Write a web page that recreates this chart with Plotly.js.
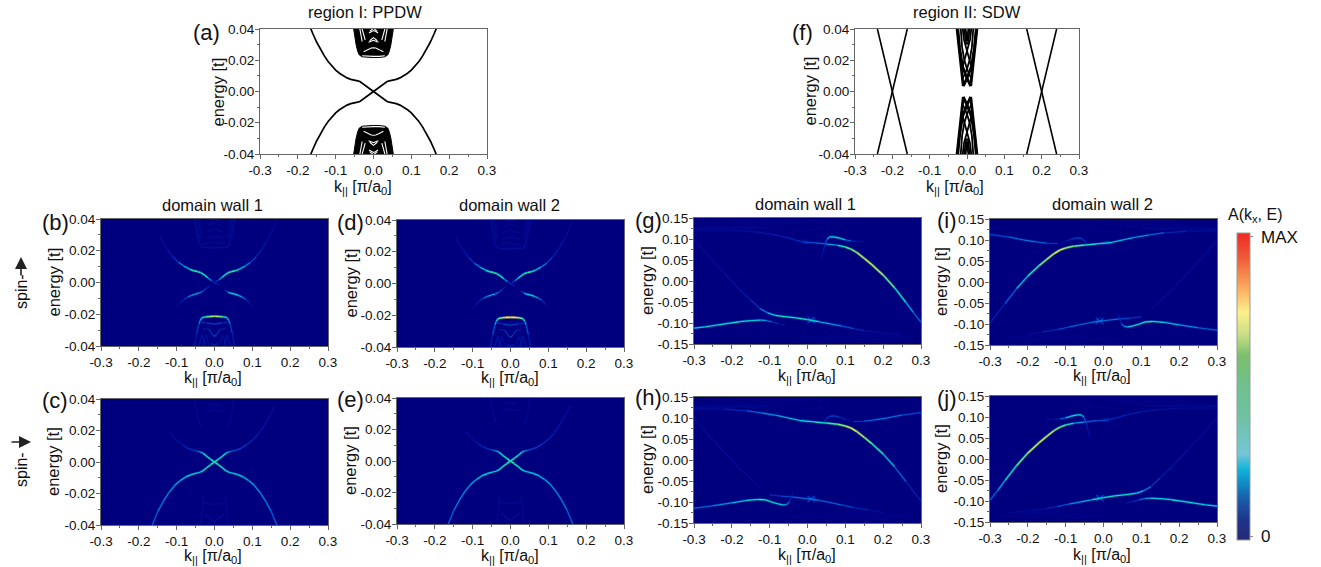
<!DOCTYPE html>
<html><head><meta charset="utf-8">
<script src="https://cdn.plot.ly/plotly-3.0.1.min.js"></script>
<style>html,body{margin:0;padding:0;background:#fff}#c{width:1321px;height:567px}</style>
</head><body><div id="c"></div>
<script>
/* ---------- values ---------- */
const xTickVals = [-0.3,-0.2,-0.1,0,0.1,0.2,0.3];
const xTickText = ['-0.3','-0.2','-0.1','0.0','0.1','0.2','0.3'];
const yTickValsLow = [-0.04,-0.02,0,0.02,0.04];
const yTickTextLow = ['-0.04','-0.02','0.00','0.02','0.04'];
const yTickValsHigh = [-0.15,-0.10,-0.05,0,0.05,0.10,0.15];
const yTickTextHigh = ['-0.15','-0.10','-0.05','0.00','0.05','0.10','0.15'];

/* region I, PPDW: k,E */
const ppdwArmK = [0,0.01,0.02,0.03,0.036,0.042,0.05,0.06,0.07,0.08,0.09,0.10,0.11,0.12,0.13,0.14,0.15,0.16,0.166];
const ppdwArmE = [0,0.0017,0.0035,0.0055,0.0064,0.0068,0.0072,0.0078,0.0087,0.0100,0.0117,0.0137,0.0162,0.0192,0.0228,0.0268,0.0315,0.0368,0.0403];
const ppdwBandK = [-0.053,-0.050,-0.046,-0.042,-0.038,-0.030,-0.015,0,0.015,0.030,0.038,0.042,0.046,0.050,0.053];
const ppdwBandE = [0.041,0.035,0.030,0.026,0.0235,0.0222,0.0218,0.0217,0.0218,0.0222,0.0235,0.026,0.030,0.035,0.041];
const ppdwGaps = [
 [[-0.030,0.0229],[-0.015,0.0225],[0,0.0225],[0.015,0.0225],[0.030,0.0229]],
 [[-0.026,0.0255],[-0.015,0.0268],[-0.006,0.0278],[0,0.028],[0.006,0.0278],[0.015,0.0268],[0.026,0.0255]],
 [[-0.013,0.0315],[-0.006,0.0322],[0,0.0328],[0.006,0.0322],[0.013,0.0315]],
 [[-0.010,0.0325],[0,0.0345],[0.010,0.0325]],
 [[-0.012,0.0375],[-0.005,0.0385],[0,0.039],[0.005,0.0385],[0.012,0.0375]],
 [[-0.010,0.0385],[0,0.0405],[0.010,0.0385]],
 [[-0.036,0.040],[-0.030,0.032]],[[0.036,0.040],[0.030,0.032]],
 [[-0.030,0.040],[-0.022,0.033]],[[0.030,0.040],[0.022,0.033]]
];

/* region II, SDW: k,E */
const sdwConeA = [[-0.24,0.04],[-0.20,0.0],[-0.16,-0.04]];
const sdwConeB = [[-0.16,0.04],[-0.20,0.0],[-0.24,-0.04]];
const sdwConeC = [[0.16,0.04],[0.20,0.0],[0.24,-0.04]];
const sdwConeD = [[0.24,0.04],[0.20,0.0],[0.16,-0.04]];
const sdwMesh = [
 [[-0.010,0.0035],[0,0.0085],[0.012,0.016],[0.020,0.028],[0.025,0.041]],
 [[0.010,0.0035],[0,0.0085],[-0.012,0.016],[-0.020,0.028],[-0.025,0.041]],
 [[-0.010,0.0035],[-0.014,0.012],[-0.018,0.020],[-0.022,0.030],[-0.027,0.041]],
 [[0.010,0.0035],[0.014,0.012],[0.018,0.020],[0.022,0.030],[0.027,0.041]],
 [[-0.012,0.008],[0,0.0145],[0.007,0.020],[0.013,0.028],[0.017,0.041]],
 [[0.012,0.008],[0,0.0145],[-0.007,0.020],[-0.013,0.028],[-0.017,0.041]],
 [[-0.015,0.013],[-0.007,0.020],[0,0.027],[0.008,0.033],[0.012,0.041]],
 [[0.015,0.013],[0.007,0.020],[0,0.027],[-0.008,0.033],[-0.012,0.041]],
 [[-0.004,0.041],[0,0.032],[0.004,0.041]],
 [[-0.008,0.041],[-0.002,0.030]],[[0.008,0.041],[0.002,0.030]]
];

/* low-energy spectral branches: k,E,intensity */
const upRightArm = [[0.004,0.0006,.08],[0.012,0.0018,.22],[0.02,0.0033,.38],[0.03,0.0052,.46],[0.037,0.0063,.48],[0.045,0.0069,.5],[0.055,0.0074,.48],[0.065,0.0083,.4],[0.08,0.0102,.3],[0.095,0.0127,.22],[0.11,0.0162,.14],[0.125,0.0208,.09],[0.14,0.0268,.06],[0.155,0.034,.04],[0.165,0.040,.02]];
const upLeftArm = [[0.012,-0.0018,.06],[0.004,-0.0006,.1],[-0.008,0.0012,.18],[-0.018,0.003,.38],[-0.028,0.005,.48],[-0.037,0.0063,.48],[-0.045,0.0069,.5],[-0.055,0.0074,.5],[-0.065,0.0083,.42],[-0.08,0.0102,.3],[-0.095,0.0127,.2],[-0.11,0.0162,.12],[-0.125,0.0208,.07],[-0.145,0.029,.03]];
const upLowRight = [[0.028,-0.0048,.08],[0.035,-0.006,.25],[0.042,-0.0067,.38],[0.052,-0.0072,.42],[0.062,-0.008,.38],[0.072,-0.009,.3],[0.082,-0.0105,.18],[0.092,-0.0128,.09],[0.10,-0.0152,.04]];
const upLowLeft = [[-0.012,-0.0018,.07],[-0.022,-0.0038,.14],[-0.032,-0.0057,.2],[-0.04,-0.0066,.3],[-0.05,-0.0072,.36],[-0.06,-0.008,.3],[-0.07,-0.009,.2],[-0.08,-0.0105,.13],[-0.09,-0.0128,.08],[-0.10,-0.0155,.04]];
const upGapBottom = [[-0.053,-0.04,.06],[-0.047,-0.032,.12],[-0.041,-0.026,.2],[-0.037,-0.0235,.3],[-0.032,-0.022,.42],[-0.022,-0.0216,.5],[-0.012,-0.0214,.6],[0,-0.0213,.66],[0.012,-0.0214,.6],[0.022,-0.0216,.5],[0.032,-0.022,.42],[0.037,-0.0235,.3],[0.041,-0.026,.2],[0.047,-0.032,.12],[0.053,-0.04,.06]];
const upGapTop = [[-0.053,0.04,.05],[-0.047,0.032,.05],[-0.041,0.0255,.05],[-0.036,0.0228,.05],[-0.03,0.022,.05],[0,0.0218,.05],[0.03,0.022,.05],[0.036,0.0228,.05],[0.041,0.0255,.05],[0.047,0.032,.05],[0.053,0.04,.05]];
const upGapArcsBottom = [
 [[-0.035,-0.025,.1],[-0.02,-0.0255,.14],[0,-0.0262,.16],[0.02,-0.0255,.14],[0.035,-0.025,.1]],
 [[-0.03,-0.029,.07],[-0.015,-0.0295,.12],[-0.005,-0.033,.16],[0,-0.034,.18],[0.005,-0.033,.16],[0.015,-0.0295,.12],[0.03,-0.029,.07]],
 [[-0.042,-0.04,.07],[-0.033,-0.033,.07],[-0.025,-0.04,.07]],[[0.042,-0.04,.07],[0.033,-0.033,.07],[0.025,-0.04,.07]],
 [[-0.032,-0.04,.06],[-0.022,-0.033,.07],[-0.014,-0.04,.06]],[[0.032,-0.04,.06],[0.022,-0.033,.07],[0.014,-0.04,.06]],
 [[-0.01,-0.0385,.1],[0,-0.0395,.14],[0.01,-0.0385,.1]]
];
const upGapArcsTop = [
 [[-0.028,0.0245,.03],[0,0.0255,.03],[0.028,0.0245,.03]],[[-0.025,0.028,.03],[0,0.029,.03],[0.025,0.028,.03]],
 [[-0.022,0.032,.03],[0,0.0335,.03],[0.022,0.032,.03]],[[-0.018,0.036,.03],[0,0.0375,.04],[0.018,0.036,.03]],
 [[-0.012,0.0395,.05],[0,0.0398,.07],[0.012,0.0395,.05]],
 [[-0.047,0.04,.03],[-0.039,0.028,.03]],[[0.047,0.04,.03],[0.039,0.028,.03]],
 [[-0.042,0.04,.03],[-0.034,0.028,.03]],[[0.042,0.04,.03],[0.034,0.028,.03]]
];
const downLowRight = [[0,0,.5],[0.01,-0.0017,.48],[0.02,-0.0035,.46],[0.03,-0.0055,.42],[0.038,-0.0065,.38],[0.048,-0.0071,.38],[0.06,-0.0079,.38],[0.075,-0.0093,.36],[0.09,-0.0117,.33],[0.105,-0.0148,.3],[0.12,-0.0192,.28],[0.135,-0.0248,.26],[0.15,-0.0315,.24],[0.165,-0.0403,.2]];
const downLowLeft = [[0,0,.5],[-0.01,-0.0017,.48],[-0.02,-0.0035,.46],[-0.03,-0.0055,.42],[-0.038,-0.0065,.36],[-0.048,-0.0071,.38],[-0.06,-0.0079,.42],[-0.075,-0.0093,.38],[-0.09,-0.0117,.34],[-0.105,-0.0148,.3],[-0.12,-0.0192,.28],[-0.135,-0.0248,.26],[-0.15,-0.0315,.24],[-0.165,-0.0403,.2]];
const downUpRight = [[0,0,.5],[0.01,0.0017,.46],[0.02,0.0035,.44],[0.03,0.0055,.4],[0.037,0.0064,.3],[0.045,0.0068,.22],[0.055,0.0074,.18],[0.07,0.0087,.16],[0.085,0.011,.14],[0.10,0.0137,.12],[0.115,0.0176,.1],[0.13,0.0228,.09],[0.145,0.029,.07],[0.158,0.0355,.04]];
const downUpLeft = [[0,0,.5],[-0.01,0.0017,.46],[-0.02,0.0035,.44],[-0.03,0.0055,.4],[-0.037,0.0064,.3],[-0.045,0.0068,.2],[-0.055,0.0074,.16],[-0.07,0.0087,.13],[-0.085,0.011,.1],[-0.10,0.0137,.07],[-0.12,0.019,.04]];
const downGapFaint = [
 [[-0.053,0.04,.04],[-0.047,0.032,.04],[-0.041,0.026,.03],[-0.035,0.0225,.03]],[[0.053,0.04,.04],[0.047,0.032,.04],[0.041,0.026,.03],[0.035,0.0225,.03]],
 [[-0.022,0.032,.03],[0,0.033,.03],[0.022,0.032,.03]],[[-0.018,0.036,.03],[0,0.037,.03],[0.018,0.036,.03]],
 [[-0.034,-0.0225,.03],[-0.028,-0.022,.04],[-0.032,-0.03,.05],[-0.035,-0.04,.04]],[[0.034,-0.0225,.03],[0.028,-0.022,.04],[0.032,-0.03,.05],[0.035,-0.04,.04]],
 [[-0.03,-0.026,.03],[0,-0.027,.03],[0.03,-0.026,.03]],[[-0.025,-0.033,.05],[0,-0.038,.06],[0.025,-0.033,.05]]
];

/* high-energy spectral branches, panel g */
const gMain = [[-0.30,0.121,.03],[-0.2,0.121,.05],[-0.14,0.117,.06],[-0.10,0.112,.08],[-0.06,0.105,.1],[-0.03,0.097,.12],[-0.01,0.0925,.16],[0.02,0.091,.18],[0.05,0.088,.26],[0.08,0.085,.38],[0.10,0.081,.5],[0.115,0.076,.56],[0.13,0.068,.62],[0.15,0.054,.66],[0.17,0.039,.66],[0.20,0.014,.6],[0.23,-0.016,.5],[0.26,-0.051,.36],[0.28,-0.075,.26],[0.30,-0.098,.18]];
const gBump = [[0.036,0.05,.03],[0.042,0.072,.07],[0.047,0.09,.14],[0.052,0.1,.26],[0.058,0.105,.38],[0.07,0.105,.42],[0.085,0.102,.4],[0.10,0.098,.3],[0.115,0.0955,.14],[0.13,0.0945,.07],[0.15,0.094,.03]];
const gLowLeft = [[-0.30,-0.112,.36],[-0.27,-0.109,.38],[-0.24,-0.105,.38],[-0.21,-0.101,.42],[-0.18,-0.097,.42],[-0.15,-0.0945,.38],[-0.125,-0.093,.36],[-0.11,-0.094,.28],[-0.095,-0.097,.18],[-0.08,-0.101,.1],[-0.06,-0.105,.04]];
const gFall = [[-0.30,0.098,.05],[-0.26,0.058,.05],[-0.22,0.019,.06],[-0.18,-0.02,.08],[-0.15,-0.045,.12],[-0.125,-0.066,.2],[-0.105,-0.076,.3],[-0.085,-0.082,.42],[-0.06,-0.085,.44],[-0.03,-0.088,.44],[0,-0.092,.42],[0.03,-0.097,.36],[0.06,-0.102,.3],[0.09,-0.107,.24],[0.12,-0.113,.14],[0.15,-0.118,.08],[0.19,-0.123,.05],[0.25,-0.128,.03]];
/* panel h */
const hMain = [[-0.30,0.122,.05],[-0.22,0.121,.08],[-0.16,0.117,.16],[-0.12,0.112,.26],[-0.08,0.106,.32],[-0.05,0.1,.36],[-0.02,0.094,.38],[0.02,0.0905,.42],[0.05,0.088,.46],[0.08,0.085,.56],[0.10,0.081,.64],[0.115,0.076,.68],[0.13,0.068,.66],[0.15,0.054,.6],[0.17,0.039,.54],[0.20,0.014,.42],[0.23,-0.016,.28],[0.26,-0.051,.16],[0.30,-0.098,.07]];
const hBump = [[0.044,0.09,.1],[0.05,0.098,.14],[0.058,0.104,.18],[0.07,0.105,.18],[0.085,0.102,.14],[0.10,0.097,.08],[0.115,0.092,.05]];
const hRightTail = [[0.12,0.0915,.08],[0.15,0.092,.18],[0.18,0.096,.24],[0.21,0.1,.26],[0.25,0.107,.2],[0.30,0.113,.14]];
const hLowLeft = [[-0.30,-0.115,.2],[-0.25,-0.109,.24],[-0.20,-0.102,.3],[-0.16,-0.096,.38],[-0.13,-0.094,.46],[-0.11,-0.095,.46],[-0.095,-0.1,.42],[-0.08,-0.104,.4],[-0.065,-0.107,.36],[-0.055,-0.106,.3],[-0.048,-0.1,.16],[-0.043,-0.09,.08],[-0.038,-0.075,.04]];
const hFall = [[-0.30,0.098,.06],[-0.26,0.058,.06],[-0.22,0.019,.06],[-0.18,-0.02,.06],[-0.15,-0.045,.05],[-0.12,-0.068,.04]];
const hLowMid = [[-0.10,-0.083,.1],[-0.07,-0.086,.16],[-0.04,-0.088,.2],[0,-0.092,.28],[0.03,-0.096,.22],[0.06,-0.101,.22],[0.09,-0.107,.2],[0.12,-0.113,.14],[0.16,-0.119,.08],[0.20,-0.125,.04]];
/* faint fringes, panel g and h */
const fringes = [
 [[-0.30,0.126,.03],[-0.1,0.127,.03]],[[-0.27,0.132,.02],[-0.05,0.133,.02]],[[-0.24,0.138,.02],[0.0,0.138,.02]],[[-0.2,0.144,.02],[0.05,0.144,.02]],
 [[-0.05,0.118,.02],[0.05,0.125,.02]],[[0.06,0.15,.02],[0.044,0.095,.03]],[[0.04,0.15,.02],[0.03,0.115,.02]],
 [[0.1,-0.125,.02],[0.25,-0.13,.02]],[[0.05,-0.13,.02],[0.27,-0.135,.02]],[[-0.05,-0.135,.02],[0.22,-0.14,.02]],
 [[-0.014,0.0985,.12],[0.0,0.089,.1]],[[-0.014,0.088,.1],[0.0,0.097,.1]],
 [[0.0,-0.086,.18],[0.02,-0.1,.18]],[[0.0,-0.1,.16],[0.02,-0.086,.18]],[[0.008,-0.084,.1],[0.024,-0.096,.1]]
];

/* colours */
const panelScale = [[0,'#00007f'],[.1,'#0020b0'],[.2,'#0058d8'],[.3,'#0098e4'],[.4,'#00d4d8'],[.5,'#20e8b0'],[.6,'#78ec70'],[.7,'#d8e850'],[.8,'#ffe040'],[1,'#ff4020']];
const barScale = [[0,'#262a75'],[.06,'#20328a'],[.13,'#1a5aa8'],[.19,'#0f8fc8'],[.23,'#10b4d8'],[.28,'#75c6d8'],[.39,'#6fc2a5'],[.5,'#70c090'],[.6,'#7abf6c'],[.67,'#c9de86'],[.74,'#fdf08a'],[.825,'#fba85c'],[.92,'#ef5a38'],[1,'#ee2a24']];

/* ---------- page layout ---------- */
const W = 1321, H = 567;
const px = x => x / W, py = y => 1 - y / H;
const panels = [
 {id:'a', box:[260,29,487,154], kind:'low', yt:217, kt:[363,187]},
 {id:'f', box:[855,29,1079,154], kind:'low', yt:809, kt:[955,187]},
 {id:'b', box:[101,219,328,346], kind:'low', dark:true, yt:53, kt:[213,378]},
 {id:'c', box:[101,399,328,525], kind:'low', dark:true, yt:53, kt:[213,556]},
 {id:'d', box:[397,220,624,347], kind:'low', dark:true, yt:350, kt:[510,378]},
 {id:'e', box:[397,398,624,524], kind:'low', dark:true, yt:350, kt:[510,556]},
 {id:'g', box:[694,218,921,344], kind:'high', dark:true, yt:647, kt:[807,376]},
 {id:'h', box:[694,397,921,523], kind:'high', dark:true, yt:647, kt:[807,555]},
 {id:'i', box:[990,219,1217,345], kind:'high', dark:true, yt:941, kt:[1102,376]},
 {id:'j', box:[990,396,1217,522], kind:'high', dark:true, yt:941, kt:[1102,555]}
];
const labels = {a:[206,33],f:[802,33],b:[55,222],c:[55,400],d:[350,222],e:[350,399],g:[648,220],h:[648,397],i:[947,220],j:[947,398]};
const heads = [['region I: PPDW',365,12],['region II: SDW',967,12],['domain wall 1',212,205],['domain wall 2',509,205],['domain wall 1',805,204],['domain wall 2',1102,204]];

const layout = {width:W,height:H,margin:{l:0,r:0,t:0,b:0},paper_bgcolor:'#fff',plot_bgcolor:'rgba(0,0,0,0)',showlegend:false,
  font:{family:'"Liberation Sans", Arial, sans-serif',color:'#111',size:13.5},annotations:[],shapes:[]};
const traces = [];
const frame = '#666';
const kTitle = 'k<sub>||</sub> [π/a<sub>0</sub>]';
const note = (x,y,text,size,extra) => layout.annotations.push(Object.assign({xref:'paper',yref:'paper',x:px(x),y:py(y),text,showarrow:false,xanchor:'center',yanchor:'middle',font:{size}},extra||{}));

panels.forEach((p,i)=>{
  const n = i===0 ? '' : String(i+1);
  const low = p.kind==='low';
  p.x = 'x'+n; p.y = 'y'+n;
  layout['xaxis'+n] = {domain:[px(p.box[0]),px(p.box[2])],anchor:p.y,range:[-0.3,0.3],tickmode:'array',tickvals:xTickVals,ticktext:xTickText,
    ticks:'outside',ticklen:4,tickcolor:frame,showline:true,mirror:true,linecolor:frame,linewidth:1,zeroline:false,showgrid:false,
    tickfont:{size:13.5},minor:{ticks:'outside',ticklen:2,tickcolor:frame,tickvals:[-0.25,-0.15,-0.05,0.05,0.15,0.25]}};
  layout['yaxis'+n] = {domain:[py(p.box[3]),py(p.box[1])],anchor:p.x,range:low?[-0.04,0.04]:[-0.15,0.15],tickmode:'array',
    tickvals:low?yTickValsLow:yTickValsHigh,ticktext:low?yTickTextLow:yTickTextHigh,ticks:'outside',ticklen:4,tickcolor:frame,ticklabelstandoff:-2,
    showline:true,mirror:true,linecolor:frame,linewidth:1,zeroline:false,showgrid:false,tickfont:{size:13.5},
    minor:{ticks:'outside',ticklen:2,tickcolor:frame,tickvals:low?[-0.03,-0.01,0.01,0.03]:[-0.125,-0.075,-0.025,0.025,0.075,0.125]}};
  if(p.dark) layout.shapes.push({type:'rect',xref:p.x+' domain',yref:p.y+' domain',x0:0,x1:1,y0:0,y1:1,fillcolor:'#00007f',line:{width:0},layer:'below'});
  const l = labels[p.id];
  note(l[0],l[1],'('+p.id+')',22);
  note(p.yt,(p.box[1]+p.box[3])/2,'energy [t]',16.5,{textangle:-90});
  note(p.kt[0],p.kt[1],kTitle,16);
});
heads.forEach(h=>note(h[1],h[2],h[0],16.5));
note(1255,215,'A(k<sub>x</sub>, E)',16);
note(21,292,'spin-',16,{textangle:-90});
note(21,470,'spin-',16,{textangle:-90});
layout.annotations.push({xref:'paper',yref:'paper',x:px(21),y:py(257),ax:0,ay:20,axref:'pixel',ayref:'pixel',text:'',showarrow:true,arrowhead:2,arrowsize:1.5,arrowwidth:1.6,arrowcolor:'#222',standoff:0});
layout.annotations.push({xref:'paper',yref:'paper',x:px(31),y:py(442),ax:-21,ay:0,axref:'pixel',ayref:'pixel',text:'',showarrow:true,arrowhead:2,arrowsize:1.5,arrowwidth:1.6,arrowcolor:'#222',standoff:0});

/* ---------- helpers ---------- */
const byId = id => panels.find(p=>p.id===id);
function hex(c){return [1,3,5].map(j=>parseInt(c.substr(j,2),16));}
function colourAt(v){
  for(let j=1;j<panelScale.length;j++){
    if(v<=panelScale[j][0]){
      const [a,ca]=panelScale[j-1],[b,cb]=panelScale[j],t=(v-a)/(b-a),A=hex(ca),B=hex(cb);
      return 'rgb('+A.map((q,m)=>Math.round(q+(B[m]-q)*t)).join(',')+')';
    }
  }
  return panelScale[panelScale.length-1][1];
}
function blackLine(id,pts,w){
  const p=byId(id);
  traces.push({type:'scatter',mode:'lines',xaxis:p.x,yaxis:p.y,x:pts.map(q=>q[0]),y:pts.map(q=>q[1]),line:{color:'#000',width:w||1.7},hoverinfo:'skip'});
}
function flipE(pts){return pts.map(q=>[q[0],-q[1],q[2]]);}
function flipK(pts){return pts.map(q=>[-q[0],q[1],q[2]]);}
/* one trace per brightness bin, segments separated by gaps */
function spectral(id,branches){
  const p=byId(id), bins={};
  branches.forEach(b=>{
    for(let j=0;j<b.length-1;j++){
      const v=(b[j][2]+b[j+1][2])/2, key=Math.round(v*50)/50;
      (bins[key]=bins[key]||{x:[],y:[]});
      bins[key].x.push(b[j][0],b[j+1][0],null);
      bins[key].y.push(b[j][1],b[j+1][1],null);
    }
  });
  Object.keys(bins).map(Number).sort((a,b)=>a-b).forEach(v=>{
    const c=colourAt(Math.min(1,v)), w=0.7+v*1.4;
    traces.push({type:'scatter',mode:'lines',xaxis:p.x,yaxis:p.y,x:bins[v].x,y:bins[v].y,connectgaps:false,opacity:0.25,line:{color:c,width:w+1.4},hoverinfo:'skip'});
    traces.push({type:'scatter',mode:'lines',xaxis:p.x,yaxis:p.y,x:bins[v].x,y:bins[v].y,connectgaps:false,line:{color:c,width:w},hoverinfo:'skip'});
  });
}

/* ---------- panel a: PPDW ---------- */
[1,-1].forEach(s=>{
  traces.push({type:'scatter',mode:'lines',xaxis:'x',yaxis:'y',x:ppdwBandK,y:ppdwBandE.map(e=>s*e),fill:'toself',fillcolor:'#000',line:{color:'#000',width:1},hoverinfo:'skip'});
  ppdwGaps.forEach(g=>traces.push({type:'scatter',mode:'lines',xaxis:'x',yaxis:'y',x:g.map(q=>q[0]),y:g.map(q=>s*q[1]),line:{color:'#fff',width:1.1},hoverinfo:'skip'}));
});
[[1,1],[1,-1],[-1,1],[-1,-1]].forEach(([sk,se])=>blackLine('a',ppdwArmK.map((k,j)=>[sk*k,se*ppdwArmE[j]])));

/* ---------- panel f: SDW ---------- */
[sdwConeA,sdwConeB,sdwConeC,sdwConeD].forEach(c=>blackLine('f',c,1.6));
sdwMesh.forEach((m,j)=>{
  const w = j<4 ? 2.8 : 1.8;
  blackLine('f',m,w); blackLine('f',flipE(m),w);
});

/* ---------- panels b-e ---------- */
const upBranches = [upRightArm,upLeftArm,upLowRight,upLowLeft,upGapTop,...upGapArcsTop,...upGapArcsBottom];
spectral('b',[...upBranches,upGapBottom]);
spectral('d',[...upBranches,upGapBottom.map(q=>[q[0],q[1],q[2]*1.22])]);
const downBranches = [downLowRight,downLowLeft,downUpRight,downUpLeft,...downGapFaint];
spectral('c',downBranches);
spectral('e',downBranches);

/* ---------- panels g-j ---------- */
const gBranches=[gMain,gBump,gLowLeft,gFall,...fringes];
const hBranches=[hMain,hBump,hRightTail,hLowLeft,hFall,hLowMid,...fringes];
spectral('g',gBranches);
spectral('h',hBranches);
spectral('i',hBranches.map(flipK));
spectral('j',gBranches.map(flipK));

/* ---------- colour bar ---------- */
traces.push({type:'scatter',mode:'markers',xaxis:byId('b').x,yaxis:byId('b').y,x:[0,0],y:[0,0],hoverinfo:'skip',
  marker:{size:1,opacity:0,color:[0,1],cmin:0,cmax:1,colorscale:barScale,showscale:true,
    colorbar:{x:px(1237),xanchor:'left',y:py(540),yanchor:'bottom',len:307,lenmode:'pixels',thickness:13,thicknessmode:'pixels',xpad:0,ypad:0,
      outlinecolor:'#999',outlinewidth:1,tickmode:'array',tickvals:[0.012,0.988],ticktext:['\u00a00','\u00a0MAX'],ticks:'outside',ticklen:3,tickcolor:'#888',
      tickfont:{size:17,color:'#111'}}}});

Plotly.newPlot('c',traces,layout,{displayModeBar:false,staticPlot:true});
</script></body></html>
